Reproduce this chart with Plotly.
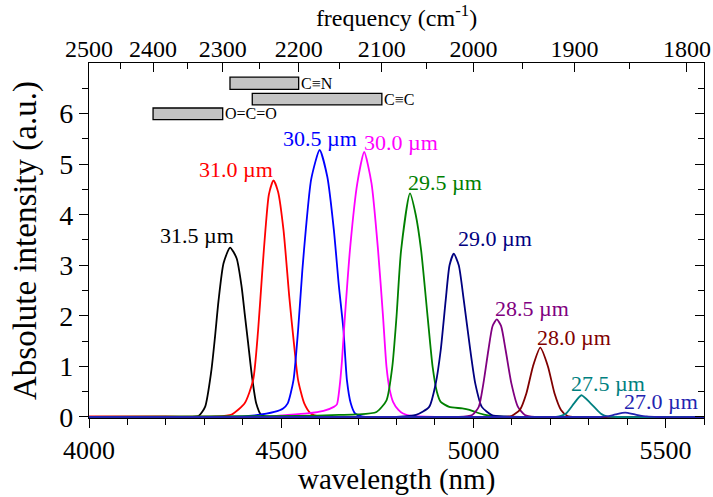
import plotly.graph_objects as go

# Emission spectra, one per grating period (wavelength in nm, intensity in a.u.)
periods = ["31.5 µm", "31.0 µm", "30.5 µm", "30.0 µm", "29.5 µm",
           "29.0 µm", "28.5 µm", "28.0 µm", "27.5 µm", "27.0 µm"]
colors = ["#000000", "#ff0000", "#0000ff", "#ff00ff", "#008000",
          "#000080", "#800080", "#800000", "#008080", "#2323b0"]

wl_315 = [4000, 4250, 4285, 4302, 4318, 4328, 4337, 4350, 4367, 4384, 4397, 4405, 4414, 4424, 4435, 4448, 4470, 5600]
int_315 = [0.0, 0.0, 0.02, 0.2, 0.9, 1.6, 2.3, 3.04, 3.35, 3.14, 2.58, 2.05, 1.46, 0.8, 0.27, 0.04, 0.0, 0.0]

wl_310 = [4000, 4200, 4330, 4371, 4405, 4427, 4440, 4451, 4459, 4468, 4480, 4492, 4506, 4521, 4534, 4544, 4560, 4577, 4600, 5600]
int_310 = [0.01, 0.01, 0.01, 0.05, 0.27, 0.73, 1.72, 2.9, 3.7, 4.4, 4.68, 4.45, 3.7, 2.38, 1.39, 0.73, 0.27, 0.07, 0.01, 0.0]

wl_305 = [4000, 4400, 4431, 4482, 4505, 4517, 4532, 4544, 4555, 4564, 4578, 4600, 4620, 4637, 4650, 4662, 4671, 4681, 4692, 4710, 5600]
int_305 = [0.0, 0.01, 0.03, 0.1, 0.17, 0.27, 0.73, 1.72, 2.9, 3.7, 4.7, 5.28, 4.75, 3.7, 2.6, 1.72, 0.73, 0.27, 0.07, 0.01, 0.0]

wl_300 = [4000, 4450, 4500, 4568, 4610, 4637, 4645, 4652, 4658, 4665, 4680, 4698, 4716, 4735, 4752, 4765, 4774, 4782, 4791, 4805, 4817, 4840, 5600]
int_300 = [0.0, 0.0, 0.03, 0.07, 0.12, 0.2, 0.25, 0.6, 1.1, 1.9, 3.4, 4.62, 5.24, 4.62, 3.3, 1.98, 0.99, 0.55, 0.3, 0.14, 0.07, 0.02, 0.0]

wl_295 = [4000, 4550, 4650, 4697, 4748, 4774, 4789, 4800, 4812, 4835, 4850, 4864, 4881, 4894, 4905, 4915, 4937, 4971, 4990, 5005, 5031, 5060, 5600]
int_295 = [0.0, 0.02, 0.04, 0.05, 0.1, 0.33, 0.99, 1.98, 3.3, 4.42, 4.0, 3.3, 1.98, 0.99, 0.5, 0.3, 0.2, 0.17, 0.14, 0.1, 0.04, 0.01, 0.0]

wl_290 = [4000, 4800, 4851, 4885, 4902, 4915, 4928, 4938, 4949, 4962, 4975, 4992, 5005, 5022, 5048, 5080, 5600]
int_290 = [0.0, 0.0, 0.04, 0.2, 0.66, 1.32, 2.31, 3.0, 3.23, 3.0, 2.31, 1.32, 0.66, 0.2, 0.04, 0.01, 0.0]

wl_285 = [4000, 4960, 4997, 5014, 5026, 5039, 5050, 5061, 5072, 5084, 5099, 5116, 5134, 5160, 5600]
int_285 = [0.0, 0.0, 0.04, 0.2, 0.66, 1.32, 1.8, 1.93, 1.8, 1.32, 0.66, 0.2, 0.04, 0.0, 0.0]

wl_280 = [4000, 5080, 5099, 5121, 5138, 5155, 5174, 5194, 5211, 5228, 5245, 5270, 5600]
int_280 = [0.0, 0.0, 0.02, 0.14, 0.47, 1.0, 1.37, 1.0, 0.47, 0.14, 0.02, 0.0, 0.0]

wl_275 = [4000, 5215, 5241, 5262, 5281, 5305, 5331, 5348, 5370, 5600]
int_275 = [0.0, 0.0, 0.07, 0.27, 0.43, 0.27, 0.07, 0.01, 0.0, 0.0]

wl_270 = [4000, 5330, 5348, 5370, 5395, 5420, 5451, 5480, 5600]
int_270 = [0.0, 0.0, 0.01, 0.05, 0.085, 0.05, 0.01, 0.0, 0.0]

wavelengths = [wl_315, wl_310, wl_305, wl_300, wl_295, wl_290, wl_285, wl_280, wl_275, wl_270]
intensities = [int_315, int_310, int_305, int_300, int_295, int_290, int_285, int_280, int_275, int_270]

# Peak label positions (nm, a.u.)
label_x = [4280, 4383, 4602, 4812, 4925, 5055, 5152, 5262, 5350, 5488]
label_y = [3.58, 4.90, 5.51, 5.43, 4.63, 3.53, 2.15, 1.58, 0.67, 0.30]

# Vibrational absorption bands (cm^-1)
bond_names = ["C≡N", "C≡C", "O=C=O"]
bond_freq_hi = [2290, 2260, 2400]
bond_freq_lo = [2200, 2100, 2300]
bond_y_lo = [6.48, 6.17, 5.88]
bond_y_hi = [6.72, 6.40, 6.11]

# Top axis: frequency ticks in cm^-1
freq_major = [2500, 2400, 2300, 2200, 2100, 2000, 1900, 1800]
freq_minor = [2450, 2350, 2250, 2150, 2050, 1950, 1850]

x_range = [4000, 5600]
y_range = [-0.02, 7.0]
FONT = "Liberation Serif, Times New Roman, serif"

fig = go.Figure()
for name, c, wl, it in zip(periods, colors, wavelengths, intensities):
    fig.add_trace(go.Scatter(x=wl, y=it, mode="lines", name=name,
                             line=dict(color=c, width=1.8, shape="spline", smoothing=0.6),
                             showlegend=False, hoverinfo="skip"))

for name, c, lx, ly in zip(periods, colors, label_x, label_y):
    fig.add_annotation(x=lx, y=ly, xref="x", yref="y", text=name, showarrow=False,
                       font=dict(family=FONT, size=22, color=c),
                       xanchor="center", yanchor="middle")

for name, hi, lo, y0, y1 in zip(bond_names, bond_freq_hi, bond_freq_lo, bond_y_lo, bond_y_hi):
    x0 = 1e7 / hi
    x1 = 1e7 / lo
    fig.add_shape(type="rect", xref="x", yref="y", x0=x0, x1=x1, y0=y0, y1=y1,
                  fillcolor="#c4c4c4", line=dict(color="#000000", width=1.3))
    fig.add_annotation(x=x1, y=(y0 + y1) / 2, xref="x", yref="y", text=name,
                       showarrow=False, xanchor="left", yanchor="middle", xshift=0,
                       font=dict(family=FONT, size=16, color="#000000"))

# Bottom axis title, set just under the tick labels
fig.add_annotation(x=0.5, y=0, xref="paper", yref="paper", text="wavelength (nm)",
                   showarrow=False, xanchor="center", yanchor="bottom", yshift=-79,
                   borderpad=0,
                   font=dict(family=FONT, size=29, color="#000000"))

axis_common = dict(showgrid=False, zeroline=False, linecolor="#000000", linewidth=1.2,
                   tickcolor="#000000", tickwidth=1.2)

fig.update_layout(
    width=713, height=497,
    margin=dict(l=89, r=2, t=63, b=79),
    paper_bgcolor="#ffffff", plot_bgcolor="#ffffff",
    font=dict(family=FONT, color="#000000"),
    xaxis=dict(range=x_range, tickvals=[4000, 4500, 5000, 5500], ticks="outside", ticklen=9,
               minor=dict(tickvals=[4100, 4200, 4300, 4400, 4600, 4700, 4800, 4900,
                                    5100, 5200, 5300, 5400, 5600],
                          ticks="outside", ticklen=6, tickcolor="#000000", tickwidth=1.2),
               tickfont=dict(size=26), showline=True, mirror=True,
               **axis_common),
    xaxis2=dict(range=x_range, overlaying="x", side="top", anchor="y",
                tickmode="array", tickvals=[1e7 / f for f in freq_major],
                ticktext=[str(f) for f in freq_major], ticks="inside", ticklen=9,
                minor=dict(tickmode="array", tickvals=[1e7 / f for f in freq_minor],
                           ticks="inside", ticklen=6, tickcolor="#000000", tickwidth=1.2),
                tickfont=dict(size=24), showline=False, ticklabeloverflow="allow",
                title=dict(text="frequency (cm<sup>-1</sup>)", font=dict(size=24), standoff=2),
                **axis_common),
    yaxis=dict(range=y_range, tickvals=[0, 1, 2, 3, 4, 5, 6], ticks="outside", ticklen=9,
               minor=dict(tickvals=[0.5, 1.5, 2.5, 3.5, 4.5, 5.5, 6.5],
                          ticks="outside", ticklen=6, tickcolor="#000000", tickwidth=1.2),
               tickfont=dict(size=28), showline=True, mirror=True,
               title=dict(text="Absolute intensity (a.u.)", font=dict(size=33), standoff=12),
               **axis_common),
    yaxis2=dict(range=y_range, overlaying="y", side="right", anchor="x",
                tickvals=[0, 1, 2, 3, 4, 5, 6], ticks="inside", ticklen=9,
                minor=dict(tickvals=[0.5, 1.5, 2.5, 3.5, 4.5, 5.5, 6.5],
                           ticks="inside", ticklen=6, tickcolor="#000000", tickwidth=1.2),
                showticklabels=False, showline=False, **axis_common),
)

# Invisible traces to activate the secondary axes
fig.add_trace(go.Scatter(x=[x_range[0]], y=[0], xaxis="x2", yaxis="y2", mode="markers",
                         marker=dict(opacity=0), showlegend=False, hoverinfo="skip"))

fig.write_html("out.html")
